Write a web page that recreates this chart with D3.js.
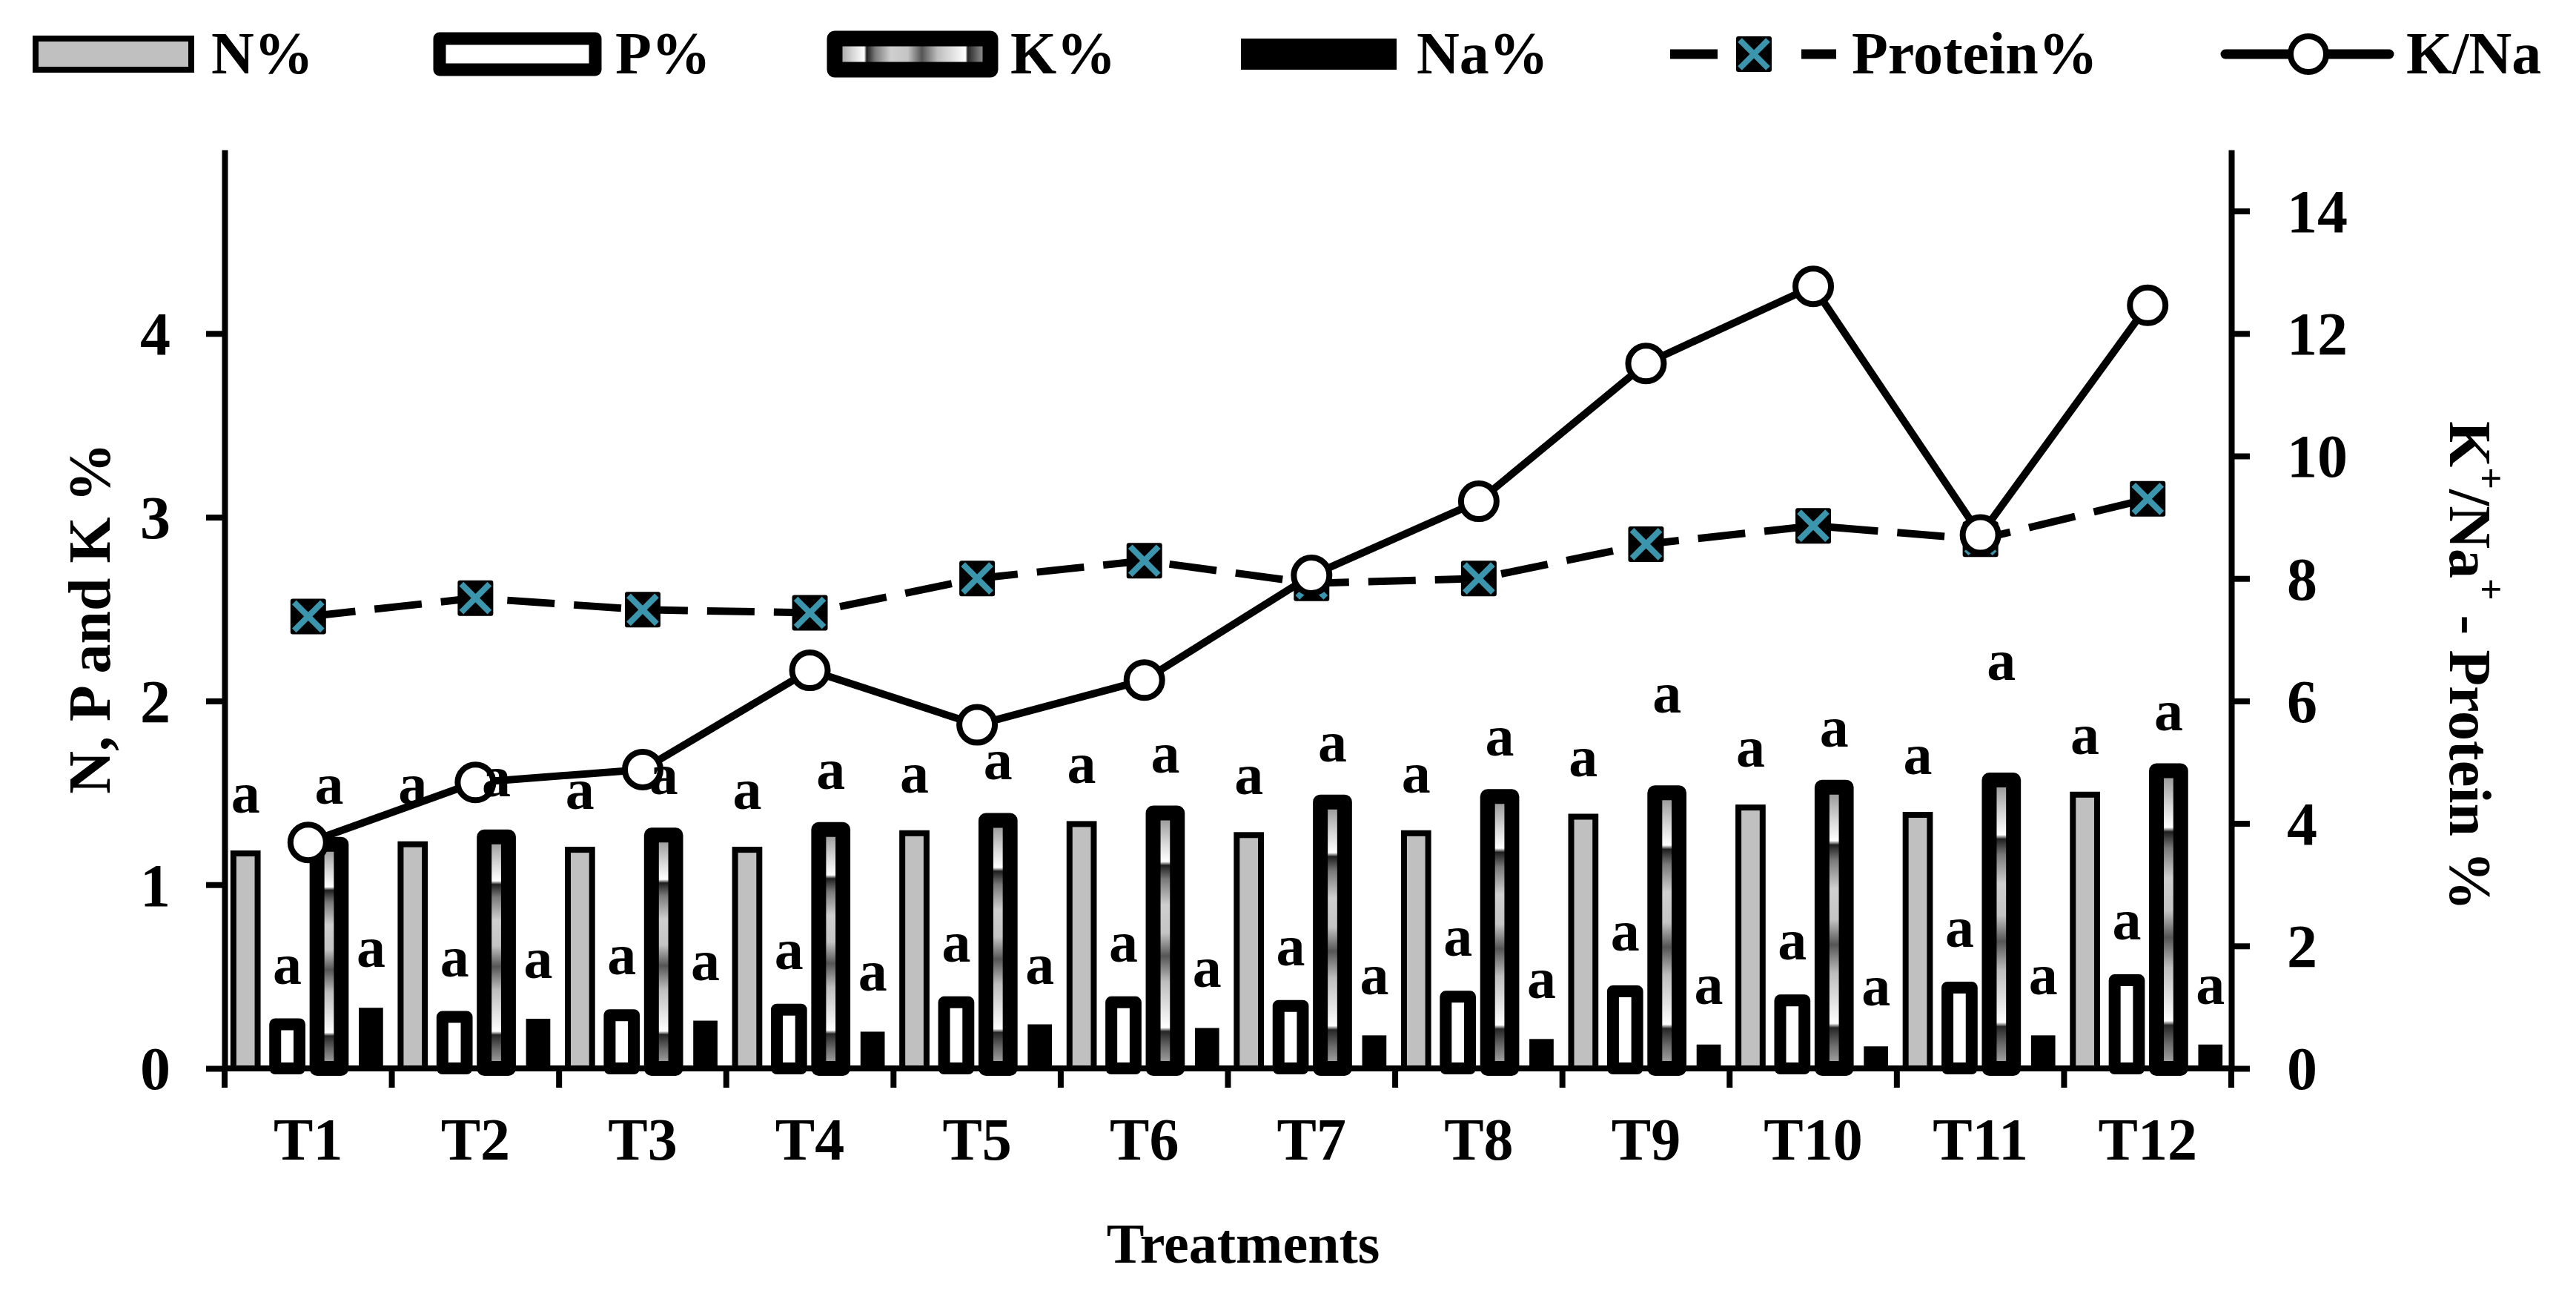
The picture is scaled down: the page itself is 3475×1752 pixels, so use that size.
<!DOCTYPE html>
<html>
<head>
<meta charset="utf-8">
<script src="https://cdn.jsdelivr.net/npm/d3@7"></script>
<style>
  body { margin: 0; background: #fff; }
  text { font-family: "Liberation Serif", "Times New Roman", serif; font-weight: bold; fill: #000; }
</style>
</head>
<body>
<div id="chart"></div>
<script>
// Data
const treatments = ["T1", "T2", "T3", "T4", "T5", "T6", "T7", "T8", "T9", "T10", "T11", "T12"];
const nPct    = [1.17, 1.22, 1.19, 1.19, 1.28, 1.33, 1.27, 1.28, 1.37, 1.42, 1.38, 1.49];
const pPct    = [0.24, 0.28, 0.29, 0.32, 0.36, 0.36, 0.34, 0.39, 0.42, 0.37, 0.44, 0.48];
const kPct    = [1.22, 1.26, 1.27, 1.30, 1.35, 1.39, 1.45, 1.48, 1.50, 1.53, 1.57, 1.62];
const naPct   = [0.33, 0.27, 0.26, 0.20, 0.24, 0.22, 0.18, 0.16, 0.13, 0.12, 0.18, 0.13];
const protein = [7.38, 7.68, 7.49, 7.44, 8.00, 8.29, 7.92, 8.00, 8.56, 8.86, 8.64, 9.30];
const kNa     = [3.69, 4.67, 4.88, 6.50, 5.61, 6.34, 8.05, 9.26, 11.51, 12.77, 8.71, 12.46];

// significance letters above each bar
const letN  = ["a", "a", "a", "a", "a", "a", "a", "a", "a", "a", "a", "a"];
const letP  = ["a", "a", "a", "a", "a", "a", "a", "a", "a", "a", "a", "a"];
const letK  = ["a", "a", "a", "a", "a", "a", "a", "a", "a", "a", "a", "a"];
const letNa = ["a", "a", "a", "a", "a", "a", "a", "a", "a", "a", "a", "a"];

const leftTicks  = [0, 1, 2, 3, 4];
const rightTicks = [0, 2, 4, 6, 8, 10, 12, 14];
const series = ["N", "P", "K", "Na"];
const legendNames = ["N%", "P%", "K%", "Na%", "Protein%", "K/Na"];

// ---- layout ----
const svgWidth = 3475, svgHeight = 1752;
const plot = { left: 303, right: 3010, top: 202, bottom: 1441 };
const teal = "#3b95ad";

let svg = d3.select("#chart").append("svg")
  .attr("width", svgWidth)
  .attr("height", svgHeight)
  .style("background", "#fff");

// gradient used by the K% bars (vertical in bars, horizontal in legend)
const kStops = [
  [0, "#8c8c8c"], [0.12, "#d9d9d9"], [0.19, "#ffffff"], [0.205, "#1e1e1e"],
  [0.26, "#7a7a7a"], [0.36, "#cfcfcf"], [0.47, "#c4c4c4"], [0.56, "#555555"],
  [0.66, "#bdbdbd"], [0.80, "#f0f0f0"], [0.84, "#ffffff"], [0.855, "#262626"],
  [0.92, "#6e6e6e"], [1, "#b5b5b5"]
];
let defs = svg.append("defs");
function addGradient(id, horizontal) {
  defs.append("linearGradient")
    .attr("id", id)
    .attr("x1", 0).attr("y1", 0)
    .attr("x2", horizontal ? 1 : 0).attr("y2", horizontal ? 0 : 1)
    .selectAll("stop")
    .data(kStops)
    .join("stop")
    .attr("offset", d => d[0])
    .attr("stop-color", d => d[1]);
}
addGradient("kGradV", false);
addGradient("kGradH", true);

// scales
let x = d3.scaleBand().domain(treatments).range([plot.left, plot.right]).padding(0);
let xs = d3.scaleBand().domain(series).range([0, x.bandwidth()]).paddingInner(0.42).paddingOuter(0.21);
let yLeft = d3.scaleLinear().domain([0, 5]).range([plot.bottom, plot.top]);
let yRight = d3.scaleLinear().domain([0, 15]).range([plot.bottom, plot.top]);
const cx = t => x(t) + x.bandwidth() / 2;

const barValues = { N: nPct, P: pPct, K: kPct, Na: naPct };
const barLetters = { N: letN, P: letP, K: letK, Na: letNa };
const barStyle = {
  N:  { fill: "#c0c0c0", stroke: "#000", sw: 8, join: "miter" },
  P:  { fill: "#fff", stroke: "#000", sw: 16, join: "round" },
  K:  { fill: "url(#kGradV)", stroke: "#000", sw: 20, join: "round" },
  Na: { fill: "#000", stroke: "none", sw: 0, join: "miter" }
};
// a couple of letters were moved up by hand in the original
const labelLift = { "K-8": 53, "K-10": 80 };

let rows = [];
treatments.forEach((t, i) => {
  series.forEach(s => rows.push({ t: t, i: i, s: s, v: barValues[s][i], lab: barLetters[s][i] }));
});

// bottom axis line + boundary ticks
svg.append("line")
  .attr("x1", plot.left).attr("x2", plot.right)
  .attr("y1", yLeft(0)).attr("y2", yLeft(0))
  .attr("stroke", "#000").attr("stroke-width", 8);

svg.append("g").selectAll("line")
  .data(treatments.map(t => x(t)).concat([plot.right]))
  .join("line")
  .attr("x1", d => d).attr("x2", d => d)
  .attr("y1", yLeft(0)).attr("y2", yLeft(0) + 26)
  .attr("stroke", "#000").attr("stroke-width", 8);

// bars
svg.append("g").selectAll("rect")
  .data(rows)
  .join("rect")
  .attr("x", d => x(d.t) + xs(d.s))
  .attr("width", xs.bandwidth())
  .attr("y", d => yLeft(d.v))
  .attr("height", d => yLeft(0) - yLeft(d.v))
  .attr("fill", d => barStyle[d.s].fill)
  .attr("stroke", d => barStyle[d.s].stroke)
  .attr("stroke-width", d => barStyle[d.s].sw)
  .attr("stroke-linejoin", d => barStyle[d.s].join);

// left axis
let leftAxis = svg.append("g")
  .attr("transform", `translate(${plot.left},0)`)
  .call(d3.axisLeft(yLeft).tickValues(leftTicks).tickFormat(d3.format("d"))
    .tickSize(25).tickSizeOuter(0).tickPadding(48));

// right axis
let rightAxis = svg.append("g")
  .attr("transform", `translate(${plot.right},0)`)
  .call(d3.axisRight(yRight).tickValues(rightTicks).tickFormat(d3.format("d"))
    .tickSize(25).tickSizeOuter(0).tickPadding(50));

[leftAxis, rightAxis].forEach(a => {
  a.attr("font-family", null).attr("font-size", null);
  a.select(".domain").attr("stroke-width", 8);
  a.selectAll(".tick line").attr("stroke-width", 8);
  a.selectAll(".tick text").style("font-size", "82px").attr("dy", "0.34em");
});

// category labels
let xAxis = svg.append("g")
  .attr("transform", `translate(0,${plot.bottom})`)
  .call(d3.axisBottom(x).tickSize(0).tickPadding(66));
xAxis.attr("font-family", null).attr("font-size", null);
xAxis.select(".domain").remove();
xAxis.selectAll(".tick text").style("font-size", "80px");

// Protein% dashed line with boxed-x markers
let proteinLine = d3.line()
  .x((d, i) => cx(treatments[i]))
  .y(d => yRight(d));

svg.append("path")
  .datum(protein)
  .attr("d", proteinLine)
  .attr("fill", "none")
  .attr("stroke", "#000")
  .attr("stroke-width", 10)
  .attr("stroke-dasharray", "64,26");

function drawBoxX(sel) {
  sel.append("rect")
    .attr("x", -24).attr("y", -24).attr("width", 48).attr("height", 48)
    .attr("rx", 3).attr("fill", "#000");
  sel.append("path")
    .attr("d", "M-19,-19L19,19M19,-19L-19,19")
    .attr("stroke", teal).attr("stroke-width", 8).attr("fill", "none");
}

svg.append("g").selectAll("g")
  .data(protein)
  .join("g")
  .attr("transform", (d, i) => `translate(${cx(treatments[i])},${yRight(d)})`)
  .call(drawBoxX);

// K/Na solid line with open circles
let kNaLine = d3.line()
  .x((d, i) => cx(treatments[i]))
  .y(d => yRight(d));

svg.append("path")
  .datum(kNa)
  .attr("d", kNaLine)
  .attr("fill", "none")
  .attr("stroke", "#000")
  .attr("stroke-width", 10)
  .attr("stroke-linejoin", "round");

svg.append("g").selectAll("circle")
  .data(kNa)
  .join("circle")
  .attr("cx", (d, i) => cx(treatments[i]))
  .attr("cy", d => yRight(d))
  .attr("r", 24)
  .attr("fill", "#fff")
  .attr("stroke", "#000")
  .attr("stroke-width", 8);

// letters over bars
svg.append("g").selectAll("text")
  .data(rows)
  .join("text")
  .attr("x", d => x(d.t) + xs(d.s) + xs.bandwidth() / 2)
  .attr("y", d => yLeft(d.v) - 55 - (labelLift[d.s + "-" + d.i] || 0))
  .attr("text-anchor", "middle")
  .style("font-size", "78px")
  .text(d => d.lab);

// axis titles
svg.append("text")
  .attr("transform", "translate(121,834) rotate(-90)")
  .attr("text-anchor", "middle")
  .attr("dominant-baseline", "central")
  .style("font-size", "80px")
  .text("N, P and K %");

let rTitle = svg.append("text")
  .attr("transform", "translate(3332,898) rotate(90)")
  .attr("text-anchor", "middle")
  .attr("dominant-baseline", "central")
  .style("font-size", "80px");
rTitle.append("tspan").text("K");
rTitle.append("tspan").attr("baseline-shift", "super").style("font-size", "52px").text("+");
rTitle.append("tspan").text("/Na");
rTitle.append("tspan").attr("baseline-shift", "super").style("font-size", "52px").text("+");
rTitle.append("tspan").text(" - Protein %");

svg.append("text")
  .attr("x", 1677).attr("y", 1703)
  .attr("text-anchor", "middle")
  .style("font-size", "76px")
  .text("Treatments");

// legend
let legend = svg.append("g");
const swatchLeft = [48, 593, 1126, 1674];
const swatchStyle = [
  { fill: "#c0c0c0", sw: 8, join: "miter" },
  { fill: "#fff", sw: 17, join: "round" },
  { fill: "url(#kGradH)", sw: 21, join: "round" },
  { fill: "#000", sw: 0, join: "miter" }
];
swatchLeft.forEach((lx, i) => {
  legend.append("rect")
    .attr("x", lx).attr("y", 52).attr("width", 210).attr("height", 42)
    .attr("fill", swatchStyle[i].fill)
    .attr("stroke", swatchStyle[i].sw ? "#000" : "none")
    .attr("stroke-width", swatchStyle[i].sw)
    .attr("stroke-linejoin", swatchStyle[i].join);
  legend.append("text")
    .attr("x", lx + 237).attr("y", 99)
    .style("font-size", "80px")
    .text(legendNames[i]);
});

// Protein% legend entry
legend.append("line").attr("x1", 2253).attr("x2", 2317).attr("y1", 73).attr("y2", 73)
  .attr("stroke", "#000").attr("stroke-width", 13);
legend.append("line").attr("x1", 2430).attr("x2", 2477).attr("y1", 73).attr("y2", 73)
  .attr("stroke", "#000").attr("stroke-width", 13);
legend.append("g").attr("transform", "translate(2366,73)").call(drawBoxX);
legend.append("text").attr("x", 2498).attr("y", 99).style("font-size", "80px").text(legendNames[4]);

// K/Na legend entry
legend.append("line").attr("x1", 3002).attr("x2", 3223).attr("y1", 73).attr("y2", 73)
  .attr("stroke", "#000").attr("stroke-width", 13).attr("stroke-linecap", "round");
legend.append("circle").attr("cx", 3114).attr("cy", 73).attr("r", 24)
  .attr("fill", "#fff").attr("stroke", "#000").attr("stroke-width", 8);
legend.append("text").attr("x", 3246).attr("y", 99).style("font-size", "80px").text(legendNames[5]);
</script>
</body>
</html>
